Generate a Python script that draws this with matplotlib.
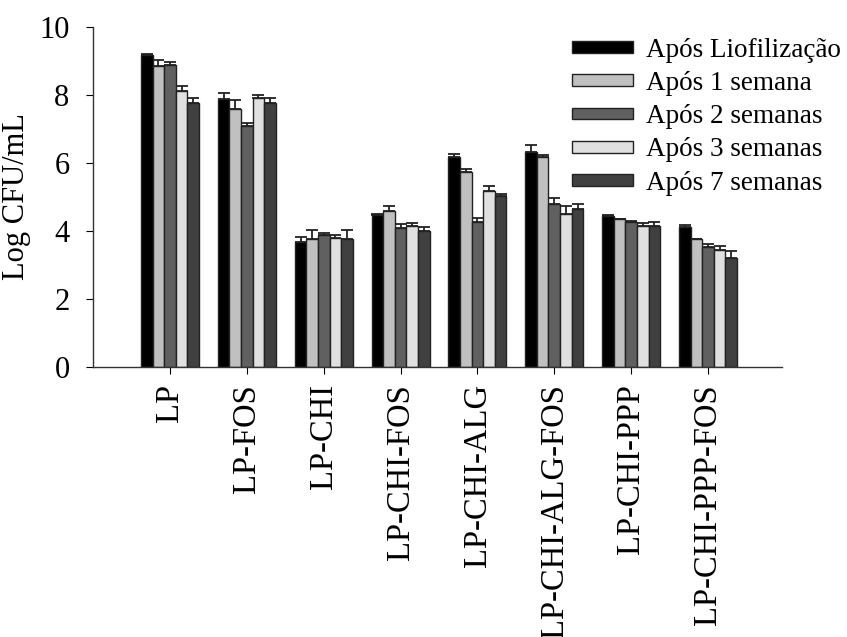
import numpy as np
import matplotlib
matplotlib.use("Agg")
import matplotlib.pyplot as plt

plt.rcParams['font.family'] = ['Liberation Serif', 'DejaVu Serif']

# Amostras e tempos de armazenamento
categories = ["LP", "LP-FOS", "LP-CHI", "LP-CHI-FOS", "LP-CHI-ALG",
              "LP-CHI-ALG-FOS", "LP-CHI-PPP", "LP-CHI-PPP-FOS"]
series_names = ["Após Liofilização", "Após 1 semana", "Após 2 semanas",
                "Após 3 semanas", "Após 7 semanas"]

# Log CFU/mL
apos_liof = [9.18, 7.89, 3.66, 4.48, 6.16, 6.33, 4.44, 4.10]
apos_1sem = [8.85, 7.59, 3.75, 4.59, 5.74, 6.16, 4.34, 3.75]
apos_2sem = [8.87, 7.09, 3.87, 4.09, 4.26, 4.78, 4.27, 3.52]
apos_3sem = [8.12, 7.92, 3.78, 4.14, 5.16, 4.51, 4.13, 3.43]
apos_7sem = [7.77, 7.77, 3.76, 3.99, 5.01, 4.63, 4.14, 3.20]

# desvios (só a parte de cima aparece)
err_liof = [0.03, 0.16, 0.15, 0.02, 0.11, 0.19, 0.02, 0.08]
err_1sem = [0.18, 0.25, 0.27, 0.13, 0.08, 0.06, 0.02, 0.02]
err_2sem = [0.08, 0.08, 0.08, 0.12, 0.11, 0.19, 0.02, 0.08]
err_3sem = [0.15, 0.08, 0.09, 0.08, 0.17, 0.22, 0.09, 0.12]
err_7sem = [0.15, 0.15, 0.26, 0.11, 0.08, 0.16, 0.12, 0.20]

values = [apos_liof, apos_1sem, apos_2sem, apos_3sem, apos_7sem]
errors = [err_liof, err_1sem, err_2sem, err_3sem, err_7sem]
colors = ["#000000", "#C0C0C0", "#606060", "#E0E0E0", "#404040"]

fig = plt.figure(figsize=(8.47, 6.37), dpi=100)
ax = fig.add_axes([0.110, 0.424, 0.813, 0.534])

x = np.arange(len(categories))
width = 0.151
for k, (vals, errs, col) in enumerate(zip(values, errors, colors)):
    pos = x + (k - 2) * width
    ax.bar(pos, vals, width, color=col, edgecolor="#222222", linewidth=1.0,
           label=series_names[k], zorder=2)
    ax.errorbar(pos, vals, yerr=[np.zeros(len(errs)), errs], fmt="none",
                ecolor="#222222", elinewidth=1.3, capsize=4, capthick=1.3, zorder=1)

ax.set_xlim(-1.0, 7.96)
ax.set_ylim(0, 10)
ax.set_yticks([0, 2, 4, 6, 8, 10])
ax.set_xticks(x)
ax.set_xticklabels(categories, rotation=90, fontsize=23.5)
ax.tick_params(axis="y", labelsize=22, length=5, pad=12, direction="out")
ax.tick_params(axis="x", length=5, pad=7.5, direction="out")
ax.set_ylabel("Log CFU/mL", fontsize=22, labelpad=6)
ax.spines["top"].set_visible(False)
ax.spines["right"].set_visible(False)
for s in ["left", "bottom"]:
    ax.spines[s].set_color("#333333")
    ax.spines[s].set_linewidth(1.0)

leg = ax.legend(loc="upper left", bbox_to_anchor=(572 / 847, 1 - 38 / 637),
                bbox_transform=fig.transFigure, frameon=False, fontsize=19.5,
                handlelength=2.25, handleheight=0.3, handletextpad=0.5,
                labelspacing=0.3, borderpad=0, borderaxespad=0)

fig.savefig("out.png", dpi=100)
